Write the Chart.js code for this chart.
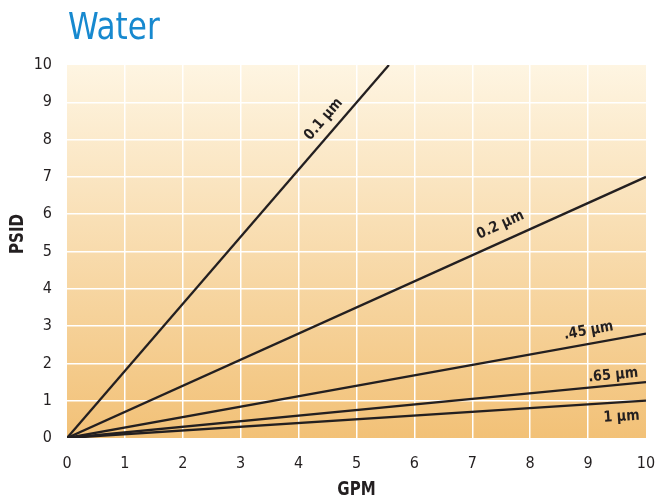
<!DOCTYPE html>
<html>
<head>
<meta charset="utf-8">
<script src="https://cdn.jsdelivr.net/npm/chart.js@4.4.1/dist/chart.umd.min.js"></script>
<style>
  html, body { margin: 0; padding: 0; background: #fff; }
  #wrap { width: 655px; height: 500px; }
</style>
</head>
<body>
<div id="wrap"><canvas id="myChart" width="655" height="500"></canvas></div>
<script>
// values
var chartTitle = 'Water';
var xTitle = 'GPM';
var yTitle = 'PSID';
var poreSizes = ['0.1 µm', '0.2 µm', '.45 µm', '.65 µm', '1 µm'];
var endGpm  = [5.56, 10, 10, 10, 10];   // where each line leaves the plot
var endPsid = [10, 7.0, 2.8, 1.5, 1.0];
var xTicks = [0, 1, 2, 3, 4, 5, 6, 7, 8, 9, 10];
var yTicks = [0, 1, 2, 3, 4, 5, 6, 7, 8, 9, 10];

var condensed = "'DejaVu Sans Condensed', 'Liberation Sans Narrow', sans-serif";

// label placement along each line (fraction of its length, offset from line in px; negative = below)
var labelAt  = [0.83, 0.76, 0.905, 0.945, 0.956];
var labelOff = [10, 12, 9, 6, -7];

var datasets = poreSizes.map(function (name, i) {
  return {
    label: name,
    data: [{x: 0, y: 0}, {x: endGpm[i], y: endPsid[i]}],
    borderColor: '#231f20',
    borderWidth: 2.3,
    pointRadius: 0,
    fill: false,
    tension: 0
  };
});

// draw text squeezed horizontally (reference uses a narrow face)
function narrowText(ctx, text, x, y, squeeze) {
  ctx.save();
  ctx.translate(x, y);
  ctx.scale(squeeze, 1);
  ctx.fillText(text, 0, 0);
  ctx.restore();
}

var backdrop = {
  id: 'backdrop',
  beforeDraw: function (chart) {
    var a = chart.chartArea, ctx = chart.ctx;
    var g = ctx.createLinearGradient(0, a.top, 0, a.bottom);
    g.addColorStop(0, '#fef5e2');
    g.addColorStop(1, '#f2c177');
    ctx.save();
    ctx.fillStyle = g;
    ctx.fillRect(a.left, a.top, a.right - a.left, a.bottom - a.top);
    ctx.restore();
  },
  afterDraw: function (chart) {
    var ctx = chart.ctx, a = chart.chartArea;
    ctx.save();
    ctx.fillStyle = '#1789cf';
    ctx.font = '38px ' + condensed;
    ctx.textBaseline = 'alphabetic';
    ctx.textAlign = 'left';
    narrowText(ctx, chartTitle, 68, 39, 0.91);

    ctx.fillStyle = '#231f20';
    ctx.font = 'bold 19px ' + condensed;
    ctx.textAlign = 'center';
    ctx.textBaseline = 'middle';
    narrowText(ctx, xTitle, (a.left + a.right) / 2, 490, 0.88);

    ctx.save();
    ctx.translate(18, 234);
    ctx.rotate(-Math.PI / 2);
    narrowText(ctx, yTitle, 0, 0, 0.88);
    ctx.restore();
    ctx.restore();
  }
};

var lineLabels = {
  id: 'lineLabels',
  afterDatasetsDraw: function (chart) {
    var xs = chart.scales.x, ys = chart.scales.y, ctx = chart.ctx;
    ctx.save();
    ctx.fillStyle = '#231f20';
    ctx.font = 'bold 15px ' + condensed;
    ctx.textAlign = 'center';
    poreSizes.forEach(function (name, i) {
      var x0 = xs.getPixelForValue(0), y0 = ys.getPixelForValue(0);
      var x1 = xs.getPixelForValue(endGpm[i]), y1 = ys.getPixelForValue(endPsid[i]);
      var ang = Math.atan2(y1 - y0, x1 - x0);
      var px = x0 + (x1 - x0) * labelAt[i];
      var py = y0 + (y1 - y0) * labelAt[i];
      ctx.save();
      ctx.translate(px, py);
      ctx.rotate(ang);
      ctx.textBaseline = labelOff[i] > 0 ? 'alphabetic' : 'top';
      narrowText(ctx, name, 0, -labelOff[i], 0.95);
      ctx.restore();
    });
    ctx.restore();
  }
};

var gridColor = function (c) {
  return (c.tick && (c.tick.value === 0 || c.tick.value === 10)) ? 'rgba(0,0,0,0)' : '#ffffff';
};

var ctx = document.getElementById('myChart').getContext('2d');
var myChart = new Chart(ctx, {
  type: 'line',
  data: { datasets: datasets },
  options: {
    responsive: false,
    animation: false,
    layout: { padding: { left: 0, right: 9, top: 65, bottom: 0 } },
    plugins: {
      legend: { display: false },
      tooltip: { enabled: false }
    },
    scales: {
      x: {
        type: 'linear',
        min: 0, max: 10,
        afterBuildTicks: function (s) { s.ticks = xTicks.map(function (v) { return {value: v}; }); },
        afterFit: function (s) { s.height = 62; s.paddingLeft = 0; s.paddingRight = 0; },
        grid: { color: gridColor, lineWidth: 1.5, drawTicks: false },
        border: { display: false },
        ticks: { color: '#231f20', padding: 16, maxRotation: 0, font: { family: condensed, size: 16 } },
        title: { display: false }
      },
      y: {
        type: 'linear',
        min: 0, max: 10,
        afterBuildTicks: function (s) { s.ticks = yTicks.map(function (v) { return {value: v}; }); },
        afterFit: function (s) { s.width = 67; s.paddingTop = 0; s.paddingBottom = 0; },
        grid: { color: gridColor, lineWidth: 1.5, drawTicks: false },
        border: { display: false },
        ticks: { color: '#231f20', padding: 15, font: { family: condensed, size: 16 } },
        title: { display: false }
      }
    }
  },
  plugins: [backdrop, lineLabels]
});
</script>
</body>
</html>
